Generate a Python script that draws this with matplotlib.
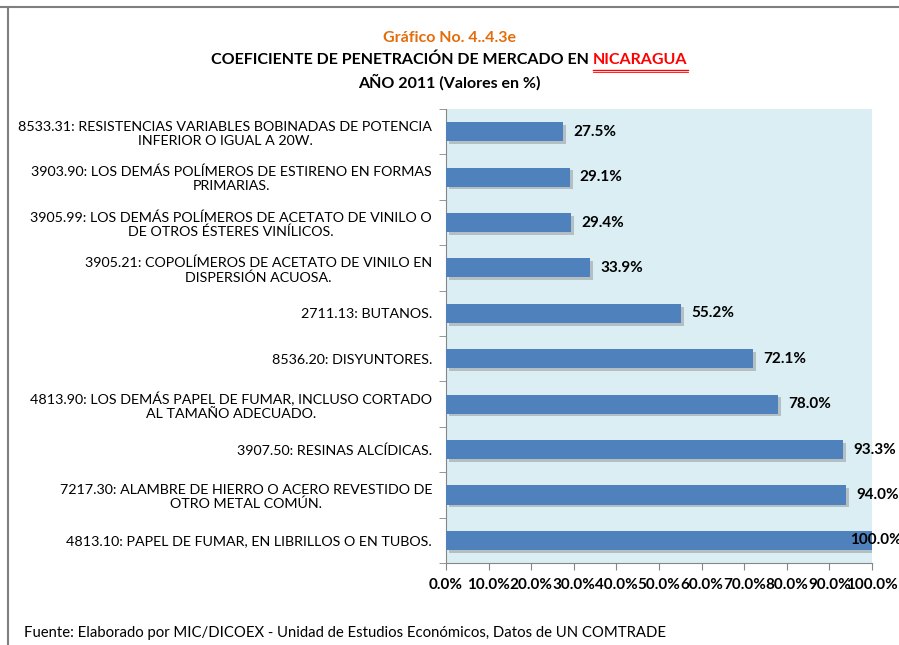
import matplotlib.pyplot as plt
import matplotlib.patheffects as pe
from matplotlib.lines import Line2D
from matplotlib.ticker import FuncFormatter, MultipleLocator

plt.rcParams['font.family'] = ['Lato', 'DejaVu Sans']

# datos (de arriba hacia abajo)
categorias = [
    '8533.31: RESISTENCIAS VARIABLES BOBINADAS DE POTENCIA\nINFERIOR O IGUAL A 20W.',
    '3903.90: LOS DEMÁS POLÍMEROS DE ESTIRENO EN FORMAS\nPRIMARIAS.',
    '3905.99: LOS DEMÁS POLÍMEROS DE ACETATO DE VINILO O\nDE OTROS ÉSTERES VINÍLICOS.',
    '3905.21: COPOLÍMEROS DE ACETATO DE VINILO EN\nDISPERSIÓN ACUOSA.',
    '2711.13: BUTANOS.',
    '8536.20: DISYUNTORES.',
    '4813.90: LOS DEMÁS PAPEL DE FUMAR, INCLUSO CORTADO\nAL TAMAÑO ADECUADO.',
    '3907.50: RESINAS ALCÍDICAS.',
    '7217.30: ALAMBRE DE HIERRO O ACERO REVESTIDO DE\nOTRO METAL COMÚN.',
    '4813.10: PAPEL DE FUMAR, EN LIBRILLOS O EN TUBOS.',
]
valores = [27.5, 29.1, 29.4, 33.9, 55.2, 72.1, 78.0, 93.3, 94.0, 100.0]

fig = plt.figure(figsize=(8.99, 6.45), dpi=100)
ax = fig.add_axes([0.496, 0.127, 0.474, 0.704])
ax.set_facecolor('#DAEEF3')

pos = list(range(len(categorias)))
barras = ax.barh(pos, valores, height=0.42, color='#4F81BD', zorder=3)
for b in barras:
    b.set_path_effects([pe.SimplePatchShadow(offset=(2, -2), shadow_rgbFace='#7a7a7a', alpha=0.4), pe.Normal()])

for p, v in zip(pos, valores):
    # Excel mete la etiqueta de 100% dentro del area
    xt = v + 2.3 if v < 97 else 94.8
    ax.text(xt, p, f'{v:.1f}%', va='center', ha='left', fontsize=11,
            fontweight='bold', color='black', zorder=4, clip_on=False)

ax.set_xlim(0, 100)
ax.set_ylim(len(categorias) - 0.5, -0.5)
ax.set_yticks(pos)
ax.set_yticklabels(categorias, fontsize=10.3, multialignment='center')
ax.tick_params(axis='y', length=0, pad=10)
ax.set_yticks([i - 0.5 for i in range(len(categorias) + 1)], minor=True)
ax.tick_params(axis='y', which='minor', length=5, color='#868686')

ax.xaxis.set_major_locator(MultipleLocator(10))
ax.xaxis.set_major_formatter(FuncFormatter(lambda x, _: f'{x:.1f}%'))
ax.tick_params(axis='x', length=5, color='#868686', labelsize=11, pad=6)
for lab in ax.get_xticklabels():
    lab.set_fontweight('bold')

for s in ['top', 'right']:
    ax.spines[s].set_visible(False)
for s in ['left', 'bottom']:
    ax.spines[s].set_color('#868686')

# titulos
fig.text(0.5, 0.941, 'Gráfico No. 4..4.3e', ha='center', va='center', fontsize=11.5,
         fontweight='bold', color='#E46C0A')
t1 = fig.text(0.5, 0.907, 'COEFICIENTE DE PENETRACIÓN DE MERCADO EN ', ha='left', va='center',
              fontsize=11.5, fontweight='bold', color='black')
t2 = fig.text(0.5, 0.907, 'NICARAGUA', ha='left', va='center', fontsize=11.5,
              fontweight='bold', color='#FF0000')
fig.canvas.draw()
r = fig.canvas.get_renderer()
w1 = t1.get_window_extent(r).width / fig.bbox.width
w2 = t2.get_window_extent(r).width / fig.bbox.width
x0 = 0.5 - (w1 + w2) / 2
t1.set_x(x0)
t2.set_x(x0 + w1)
fig.add_artist(Line2D([x0 + w1, x0 + w1 + w2], [0.892, 0.892], color='#FF0000', lw=1))
fig.add_artist(Line2D([x0 + w1, x0 + w1 + w2], [0.889, 0.889], color='#FF0000', lw=0.6))
fig.text(0.5, 0.872, 'AÑO 2011 (Valores en %)', ha='center', va='center', fontsize=11.5,
         fontweight='bold', color='black')

fig.text(0.027, 0.012, 'Fuente: Elaborado por MIC/DICOEX - Unidad de Estudios Económicos, Datos de UN COMTRADE',
         fontsize=10.7, color='black')

# marco
fig.add_artist(Line2D([0, 1], [0.989, 0.989], color='#7f7f7f', lw=1.5))
fig.add_artist(Line2D([0.009, 0.009], [0, 0.989], color='#7f7f7f', lw=1.5))

fig.savefig('out.png', dpi=100)
